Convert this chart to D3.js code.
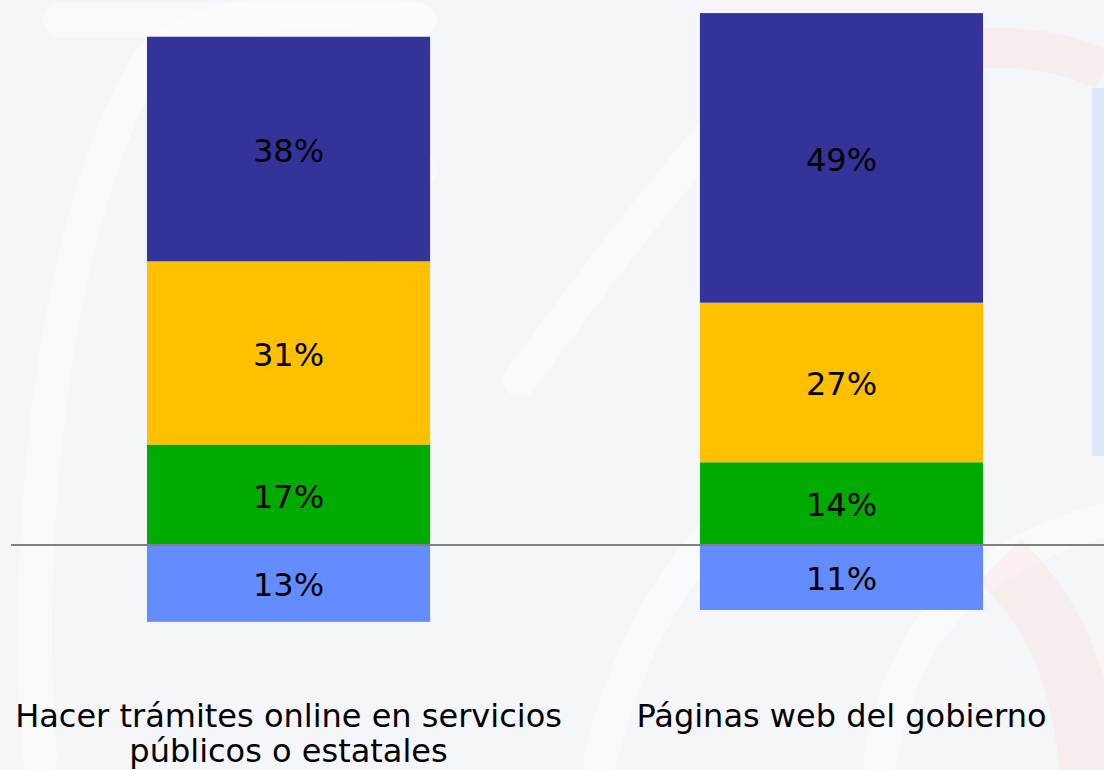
<!DOCTYPE html>
<html>
<head>
<meta charset="utf-8">
<script src="https://cdn.jsdelivr.net/npm/d3@7.9.0/dist/d3.min.js"></script>
<style>
  html, body { margin: 0; padding: 0; background: #f5f6fa; }
  svg { display: block; }
</style>
</head>
<body>
<svg id="chart" width="1104" height="770"></svg>
<script>
// data
const categories = ["Hacer trámites online en servicios públicos o estatales", "Páginas web del gobierno"];
const categoryLines = [["Hacer trámites online en servicios", "públicos o estatales"], ["Páginas web del gobierno"]];
const belowValues = [13, 11];   // light blue, drawn under the baseline
const greenValues = [17, 14];
const yellowValues = [31, 27];
const navyValues = [38, 49];

const colors = { below: "#638dff", green: "#00aa00", yellow: "#ffc000", navy: "#333399" };

const svg = d3.select("#chart");
const W = 1104, H = 770;

// faint watermark in the background
const bg = svg.append("g");
bg.append("rect").attr("width", W).attr("height", H).attr("fill", "#f5f6fa");
const swoosh = [
  "M40,760 C20,520 60,200 150,60 C200,10 300,5 420,20",
  "M330,560 C300,420 330,260 420,170",
  "M520,380 C580,300 650,200 760,80",
  "M600,760 C640,600 720,480 900,420",
  "M880,760 C900,640 960,560 1104,520",
  "M60,20 L420,20"
];
bg.selectAll("path.sw").data(swoosh).enter().append("path")
  .attr("class", "sw")
  .attr("d", d => d)
  .attr("fill", "none")
  .attr("stroke", "#ffffff")
  .attr("stroke-width", 34)
  .attr("stroke-linecap", "round")
  .attr("opacity", 0.45);
bg.append("path")
  .attr("d", "M860,70 C950,40 1040,40 1104,70")
  .attr("fill", "none").attr("stroke", "#f7d9cf").attr("stroke-width", 40).attr("opacity", 0.3);
bg.append("path")
  .attr("d", "M1000,560 C1060,620 1080,680 1090,770")
  .attr("fill", "none").attr("stroke", "#f7d9cf").attr("stroke-width", 60).attr("opacity", 0.3);

// scales
const x = d3.scaleBand().domain(categories).range([0, 1130]).paddingInner(0.488).paddingOuter(0.2658);
const y = d3.scaleLinear().domain([-20, 100]).range([545 + 20 * 5.91, 545 - 100 * 5.91]);

const rows = categories.map((c, i) => ({
  cat: c, green: greenValues[i], yellow: yellowValues[i], navy: navyValues[i], below: belowValues[i]
}));

const stack = d3.stack().keys(["green", "yellow", "navy"]);
const layers = stack(rows);

const g = svg.append("g");

// positive stacked segments
layers.forEach(layer => {
  g.selectAll(null).data(layer).enter().append("rect")
    .attr("x", d => x(d.data.cat))
    .attr("width", x.bandwidth())
    .attr("y", d => y(d[1]))
    .attr("height", d => y(d[0]) - y(d[1]))
    .attr("fill", colors[layer.key]);
});

// segment under the baseline
g.selectAll(null).data(rows).enter().append("rect")
  .attr("x", d => x(d.cat))
  .attr("width", x.bandwidth())
  .attr("y", y(0))
  .attr("height", d => y(-d.below) - y(0))
  .attr("fill", colors.below);

// baseline
g.append("line")
  .attr("x1", 11).attr("x2", W)
  .attr("y1", y(0)).attr("y2", y(0))
  .attr("stroke", "#808080")
  .attr("stroke-width", 2);

// value labels
const labelFont = "'DejaVu Sans', Verdana, sans-serif";
layers.forEach(layer => {
  g.selectAll(null).data(layer).enter().append("text")
    .attr("x", d => x(d.data.cat) + x.bandwidth() / 2)
    .attr("y", d => (y(d[0]) + y(d[1])) / 2)
    .attr("dy", "0.4em")
    .attr("text-anchor", "middle")
    .attr("font-family", labelFont)
    .attr("font-size", 32)
    .attr("fill", "#000")
    .text(d => (d[1] - d[0]) + "%");
});
g.selectAll(null).data(rows).enter().append("text")
  .attr("x", d => x(d.cat) + x.bandwidth() / 2)
  .attr("y", d => (y(0) + y(-d.below)) / 2)
  .attr("dy", "0.4em")
  .attr("text-anchor", "middle")
  .attr("font-family", labelFont)
  .attr("font-size", 32)
  .attr("fill", "#000")
  .text(d => d.below + "%");

// category labels
categories.forEach((c, i) => {
  const t = g.append("text")
    .attr("text-anchor", "middle")
    .attr("font-family", labelFont)
    .attr("font-size", 32)
    .attr("fill", "#000");
  categoryLines[i].forEach((line, j) => {
    t.append("tspan")
      .attr("x", x(c) + x.bandwidth() / 2)
      .attr("y", 727 + j * 35)
      .text(line);
  });
});

// legend box, cut off at the right edge
svg.append("rect")
  .attr("x", 1092).attr("y", 88)
  .attr("width", 20).attr("height", 368)
  .attr("fill", "#dfe7fb");
</script>
</body>
</html>
